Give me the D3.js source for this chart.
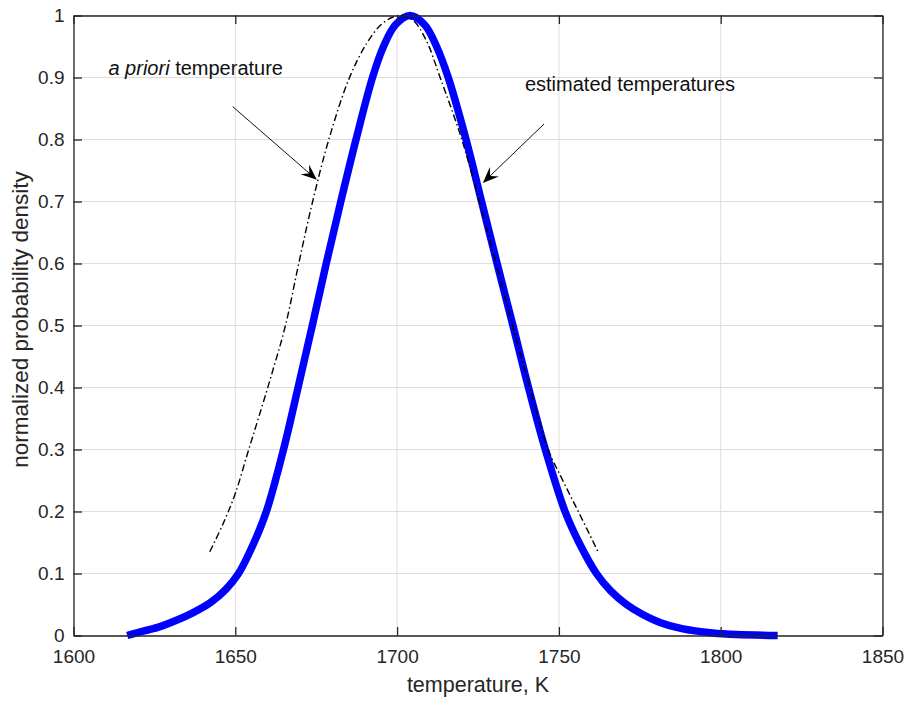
<!DOCTYPE html>
<html>
<head>
<meta charset="utf-8">
<script src="https://cdn.jsdelivr.net/npm/d3@7"></script>
<style>
  html, body { margin: 0; padding: 0; background: #fff; }
  svg { display: block; font-family: "Liberation Sans", Arial, Helvetica, sans-serif; }
</style>
</head>
<body>
<svg id="chart" width="907" height="702"></svg>
<script>
// ---- data ----
const xTicks = [1600, 1650, 1700, 1750, 1800, 1850];
const yTicks = [0, 0.1, 0.2, 0.3, 0.4, 0.5, 0.6, 0.7, 0.8, 0.9, 1];

// estimated temperatures (thick blue curve): temperature, K
const estT = [1616.6, 1620.7, 1626, 1632, 1637, 1642.3, 1647, 1651, 1655.8, 1659.6, 1664.9, 1669.4, 1673.8,
              1678.1, 1682.6, 1687.3, 1692.4, 1695.8, 1699.5, 1704, 1708.5, 1712.2, 1715.8, 1721.3,
              1726.1, 1730.9, 1735.8, 1740.6, 1745.8, 1751.9, 1756.2, 1761.6, 1766, 1770.9, 1775.5,
              1781.2, 1788, 1797.5, 1805, 1817.6];
// normalized probability density
const estP = [0.0, 0.006, 0.013, 0.025, 0.037, 0.053, 0.074, 0.10, 0.15, 0.20, 0.30, 0.40, 0.50,
              0.60, 0.70, 0.80, 0.90, 0.95, 0.985, 1.0, 0.985, 0.95, 0.90, 0.80,
              0.70, 0.60, 0.50, 0.40, 0.30, 0.20, 0.15, 0.10, 0.072, 0.05, 0.035,
              0.021, 0.011, 0.004, 0.0015, 0.0];

// a priori temperature (dash-dot black curve)
const prioriT = [1642.1, 1646.2, 1650, 1653.8, 1657.0, 1661.0, 1665.5, 1669.6, 1673.9,
                 1678.9, 1685.3, 1690.6, 1695, 1698.9, 1701.4, 1705, 1709, 1713.3, 1720, 1725.4,
                 1730.6, 1735.7, 1741, 1746.7, 1751.2, 1756, 1762.1];
const prioriP = [0.135, 0.18, 0.229, 0.294, 0.348, 0.417, 0.50, 0.60, 0.70,
                 0.80, 0.90, 0.955, 0.985, 0.998, 1.0, 0.992, 0.96, 0.90, 0.80, 0.70,
                 0.60, 0.50, 0.40, 0.30, 0.25, 0.20, 0.135];

// annotations (data coordinates)
const annoLabels = ["a priori temperature", "estimated temperatures"];
const annoTextT = [1610.8, 1739.5];
const annoTextP = [0.904, 0.878];
const arrowFromT = [1649.2, 1745.4];
const arrowFromP = [0.853, 0.825];
const arrowToT = [1675.2, 1726.5];
const arrowToP = [0.735, 0.730];

// ---- drawing ----
const svg = d3.select("#chart");
const L = 73.5, R = 882.5, T = 15.5, B = 635.5;
const x = d3.scaleLinear().domain([1600, 1850]).range([L, R]);
const y = d3.scaleLinear().domain([0, 1]).range([B, T]);
const axisColor = "#262626";

// grid
const grid = svg.append("g");
grid.selectAll("line.gx").data(xTicks).join("line")
  .attr("x1", d => x(d)).attr("x2", d => x(d)).attr("y1", T).attr("y2", B)
  .attr("stroke", "#dedede").attr("stroke-width", 1);
grid.selectAll("line.gy").data(yTicks).join("line")
  .attr("x1", L).attr("x2", R).attr("y1", d => y(d)).attr("y2", d => y(d))
  .attr("stroke", "#dedede").attr("stroke-width", 1);

// curves
const curveLine = d3.line().x(d => x(d[0])).y(d => y(d[1])).curve(d3.curveCatmullRom.alpha(0.5));
svg.append("path")
  .datum(d3.zip(estT, estP))
  .attr("d", curveLine)
  .attr("fill", "none").attr("stroke", "#0000ff").attr("stroke-width", 7.5)
  .attr("stroke-linejoin", "round").attr("stroke-linecap", "butt");

svg.append("path")
  .datum(d3.zip(prioriT, prioriP))
  .attr("d", curveLine)
  .attr("fill", "none").attr("stroke", "#000").attr("stroke-width", 1.4)
  .attr("stroke-dasharray", "7,3,1.5,3");

// axes
function styleAxis(g) {
  g.attr("font-family", null).attr("font-size", null);
  g.selectAll("path.domain").attr("stroke", axisColor).attr("stroke-width", 1.3);
  g.selectAll(".tick line").attr("stroke", axisColor).attr("stroke-width", 1.3);
  g.selectAll(".tick text").attr("fill", axisColor).style("font-size", "19px");
}
const fmtY = d => d3.format("~g")(d);
svg.append("g").attr("transform", `translate(0,${B})`)
  .call(d3.axisBottom(x).tickValues(xTicks).tickSizeInner(-8.5).tickSizeOuter(0).tickPadding(14).tickFormat(d3.format("d")))
  .call(styleAxis);
svg.append("g").attr("transform", `translate(0,${T})`)
  .call(d3.axisTop(x).tickValues(xTicks).tickSizeInner(-8.5).tickSizeOuter(0).tickFormat(""))
  .call(styleAxis);
svg.append("g").attr("transform", `translate(${L},0)`)
  .call(d3.axisLeft(y).tickValues(yTicks).tickSizeInner(-8.5).tickSizeOuter(0).tickPadding(9).tickFormat(fmtY))
  .call(styleAxis);
svg.append("g").attr("transform", `translate(${R},0)`)
  .call(d3.axisRight(y).tickValues(yTicks).tickSizeInner(-8.5).tickSizeOuter(0).tickFormat(""))
  .call(styleAxis);

// axis titles
svg.append("text")
  .attr("x", (L + R) / 2).attr("y", 692)
  .attr("text-anchor", "middle").attr("fill", axisColor)
  .style("font-size", "21.5px")
  .text("temperature, K");
svg.append("text")
  .attr("transform", `translate(28,${(T + B) / 2 - 6}) rotate(-90)`)
  .attr("text-anchor", "middle").attr("fill", axisColor)
  .style("font-size", "22.5px")
  .text("normalized probability density");

// annotations
const t0 = svg.append("text")
  .attr("x", x(annoTextT[0])).attr("y", y(annoTextP[0]))
  .attr("fill", "#111").style("font-size", "20px");
t0.append("tspan").attr("font-style", "italic").text(annoLabels[0].split(" ").slice(0, 2).join(" "));
t0.append("tspan").text(" " + annoLabels[0].split(" ").slice(2).join(" "));
svg.append("text")
  .attr("x", x(annoTextT[1])).attr("y", y(annoTextP[1]))
  .attr("fill", "#111").style("font-size", "20px")
  .text(annoLabels[1]);

for (let i = 0; i < arrowFromT.length; i++) {
  const x1 = x(arrowFromT[i]), y1 = y(arrowFromP[i]);
  const x2 = x(arrowToT[i]), y2 = y(arrowToP[i]);
  const ang = Math.atan2(y2 - y1, x2 - x1);
  const len = 16, hw = 6.5, notch = 10;
  const ux = Math.cos(ang), uy = Math.sin(ang);
  const px = -uy, py = ux;
  const bx = x2 - ux * len, by = y2 - uy * len;
  const nx = x2 - ux * notch, ny = y2 - uy * notch;
  svg.append("line")
    .attr("x1", x1).attr("y1", y1).attr("x2", nx).attr("y2", ny)
    .attr("stroke", "#111").attr("stroke-width", 1);
  svg.append("path")
    .attr("d", `M${x2},${y2} L${bx + px * hw},${by + py * hw} L${nx},${ny} L${bx - px * hw},${by - py * hw} Z`)
    .attr("fill", "#000");
}
</script>
</body>
</html>
